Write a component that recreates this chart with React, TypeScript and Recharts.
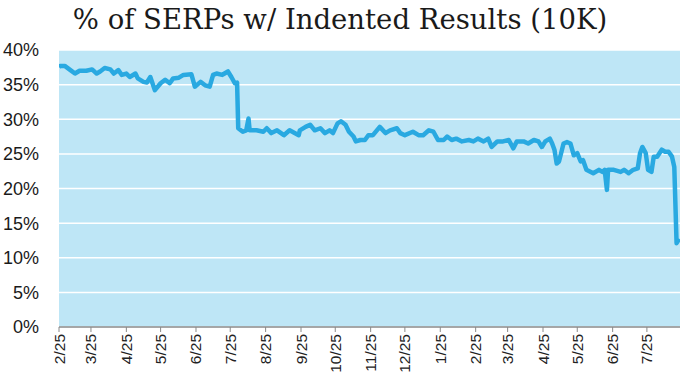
import React from 'react';
import { LineChart, Line, XAxis, YAxis, CartesianGrid } from 'recharts';

const days = [
  0, 1, 5, 10, 14, 18, 24, 29, 33, 36, 40, 45, 48, 52, 55, 59, 62, 67, 69, 74, 77, 80, 84, 89, 93, 97,
  100, 105, 109, 116, 119, 124, 128, 132, 135, 138, 143, 145, 148, 151, 154, 156, 157, 161, 164, 166,
  167, 173, 179, 182, 186, 191, 197, 202, 210, 211, 216, 220, 224, 229, 233, 237, 240, 244, 247, 251,
  254, 258, 260, 264, 268, 271, 275, 281, 286, 290, 296, 299, 303, 310, 315, 319, 324, 328, 332, 337,
  340, 344, 348, 353, 359, 363, 367, 372, 376, 379, 384, 389, 394, 398, 401, 407, 411, 416, 420, 423,
  426, 430, 432, 434, 436, 438, 442, 445, 448, 451, 454, 457, 459, 462, 468, 473, 476, 478, 480, 481,
  486, 492, 495, 499, 503, 507, 509, 511, 514, 516, 519, 521, 524, 528, 531, 534, 537, 539, 541, 542, 544,
];

const shares = [
  37.5, 37.7, 37.7, 37.1, 36.6, 37.0, 37.0, 37.2, 36.6, 36.9, 37.4, 37.2, 36.6, 37.1, 36.4, 36.6, 36.1, 36.6, 35.9, 35.4, 35.3, 36.1, 34.2, 35.2, 35.7, 35.2,
  35.9, 36.0, 36.4, 36.5, 34.7, 35.4, 34.9, 34.7, 36.4, 36.6, 36.4, 36.6, 36.9, 36.1, 35.2, 35.3, 28.7, 28.2, 28.4, 30.1,
  28.4, 28.4, 28.2, 28.7, 28.0, 28.4, 27.7, 28.4, 27.7, 28.4, 28.9, 29.2, 28.4, 28.7, 28.0, 28.4, 28.0, 29.4, 29.7, 29.2,
  28.2, 27.5, 26.8, 27.0, 27.0, 27.7, 27.7, 28.9, 28.0, 28.4, 28.7, 28.0, 27.7, 28.2, 27.7, 27.7, 28.4, 28.2, 27.0, 27.0,
  27.5, 27.0, 27.2, 26.8, 27.0, 26.8, 27.2, 26.8, 27.2, 26.0, 26.8, 26.8, 27.0, 25.8, 26.8, 26.8, 26.5, 27.0, 26.8, 26.0,
  26.8, 27.2, 26.5, 25.6, 23.6, 23.9, 26.5, 26.7, 26.5, 24.8, 25.1, 23.9, 24.1, 22.7, 22.2, 22.7, 22.4, 22.7, 19.8, 22.7,
  22.7, 22.4, 22.7, 22.2, 22.7, 22.9, 25.1, 26.0, 25.1, 22.7, 22.4, 24.6, 24.6, 25.6, 25.3, 25.3, 24.6, 23.1, 12.1, 12.5, 12.3,
];

const tickDays = [0, 28, 59, 89, 120, 150, 181, 212, 242, 273, 303, 334, 365, 393, 424, 454, 485, 515];
const tickLabels = ['2/25', '3/25', '4/25', '5/25', '6/25', '7/25', '8/25', '9/25', '10/25', '11/25', '12/25', '1/25', '2/25', '3/25', '4/25', '5/25', '6/25', '7/25'];
const yTicks = [0, 5, 10, 15, 20, 25, 30, 35, 40];

const data = days.map((d, i) => ({ day: d, share: shares[i] }));

const XTick = (props: any) => {
  const { x, y, payload } = props;
  const i = tickDays.indexOf(payload.value);
  return (
    <text
      x={0}
      y={0}
      transform={`translate(${x},${y}) rotate(-90)`}
      textAnchor="end"
      dominantBaseline="central"
      fontSize={15.5}
      fill="#222"
      fontFamily="'Liberation Sans', Arial, sans-serif"
    >
      {tickLabels[i]}
    </text>
  );
};

export default function App() {
  return (
    <div style={{ position: 'absolute', left: 0, top: 0, width: 681, height: 379, background: '#fff' }}>
      <svg width={681} height={44} style={{ position: 'absolute', left: 0, top: 0 }}>
        <text
          x={340}
          y={29}
          textAnchor="middle"
          fontSize={27.5}
          fill="#1a1a1a"
          fontFamily="'DejaVu Serif', serif"
        >
          % of SERPs w/ Indented Results (10K)
        </text>
      </svg>
      <div style={{ position: 'absolute', left: 0, top: 0 }}>
        <LineChart width={681} height={379} data={data} margin={{ top: 50, right: 1, bottom: 0, left: 0 }}>
          <CartesianGrid vertical={false} stroke="#ffffff" strokeWidth={1.5} fill="#bee6f6" />
          <XAxis
            dataKey="day"
            type="number"
            domain={[0, 544]}
            ticks={tickDays}
            interval={0}
            height={52}
            tick={<XTick />}
            tickSize={5}
            tickMargin={2}
            axisLine={{ stroke: '#8a8a8a', strokeWidth: 1.5 }}
            tickLine={{ stroke: '#8a8a8a' }}
            allowDataOverflow
          />
          <YAxis
            type="number"
            domain={[0, 40]}
            ticks={yTicks}
            width={59}
            axisLine={false}
            tickLine={false}
            tickMargin={14}
            tickFormatter={(v: number) => `${v}%`}
            tick={{ fontSize: 18, fill: '#1a1a1a', fontFamily: "'Liberation Sans', Arial, sans-serif" }}
          />
          <Line
            type="linear"
            dataKey="share"
            stroke="#29a9e1"
            strokeWidth={4.5}
            dot={false}
            strokeLinejoin="round"
            isAnimationActive={false}
          />
        </LineChart>
      </div>
    </div>
  );
}
